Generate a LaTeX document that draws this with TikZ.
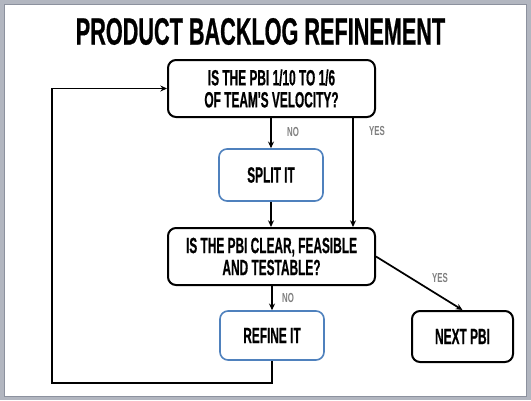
\documentclass[tikz,border=0pt]{standalone}
\usepackage{fontspec}
\newfontfamily\titlefont[FakeStretch=0.57,FakeBold=0.6]{Liberation Sans}
\newfontfamily\boxfont[FakeStretch=0.54,FakeBold=0.6]{Liberation Sans}
\newfontfamily\answerfont[FakeStretch=0.6]{Liberation Sans}
\usetikzlibrary{arrows.meta}
\definecolor{slidegray}{RGB}{178,182,192}
\definecolor{slideedge}{RGB}{140,145,158}
\definecolor{boxblue}{RGB}{79,129,189}
\definecolor{labelgray}{RGB}{127,127,127}
\tikzset{every picture/.style={line width=0.75pt}}
\tikzset{
  askbox/.style={draw=black, line width=1.5pt, rounded corners=6pt, align=center, inner sep=0pt,
    font=\boxfont\bfseries\fontsize{16.5}{16.5}\selectfont},
  actbox/.style={draw=boxblue, line width=1.2pt, rounded corners=6pt, align=center, inner sep=0pt,
    font=\boxfont\bfseries\fontsize{16.5}{16.5}\selectfont},
  flow/.style={line width=1.3pt, -{Stealth[length=5pt,width=4.5pt]}},
  answer/.style={text=labelgray, inner sep=0pt, font=\answerfont\bfseries\fontsize{9.8}{10}\selectfont}
}

\begin{document}
\begin{tikzpicture}[x=0.75pt,y=0.75pt,yscale=-1,xscale=1]
%set diagram left start at 0, and has height of 400
\useasboundingbox (0,0) rectangle (531,400);

%Slide frame
\fill [slidegray] (0,0) rectangle (531,400);
\draw [slideedge, line width=0.6pt, fill=white] (4,4) rectangle (526,396);

% Title
\node (title) at (260.5,31.5) {\titlefont\bfseries\fontsize{28.5}{30}\selectfont PRODUCT BACKLOG REFINEMENT};

% Boxes
\node [askbox, minimum width=155.25pt, minimum height=42.75pt] (size) at (271.5,88.5) {IS THE PBI 1/10 TO 1/6\\OF TEAM'S VELOCITY?};
\node [actbox, minimum width=78pt, minimum height=39pt] (split) at (271,175) {SPLIT IT};
\node [askbox, minimum width=155.25pt, minimum height=42.75pt] (ready) at (271.5,256.5) {IS THE PBI CLEAR, FEASIBLE\\AND TESTABLE?};
\node [actbox, minimum width=78pt, minimum height=36.75pt] (refine) at (272,335.5) {REFINE IT};
\node [askbox, minimum width=75.75pt, minimum height=38.25pt] (next) at (462.5,336.5) {NEXT PBI};

% Helper points
\coordinate (yesx) at (353,0);
\coordinate (loop) at (52,383);

% Connectors
\draw [flow] (size.south -| split.north) -- (split.north);
\draw [flow] (size.south -| yesx) -- (ready.north -| yesx);
\draw [flow] (split.south) -- (ready.north -| split.south);
\draw [flow] (ready.south -| refine.north) -- (refine.north);
\draw [flow] (ready.east) -- (next.north);
\draw [flow] (refine.south) |- (loop) |- (size.west);

% Answer labels
\node [answer] (no1) at (293,132) {NO};
\node [answer] (yes1) at (377,131) {YES};
\node [answer] (no2) at (288,298) {NO};
\node [answer] (yes2) at (440,278) {YES};

\end{tikzpicture}
\end{document}
